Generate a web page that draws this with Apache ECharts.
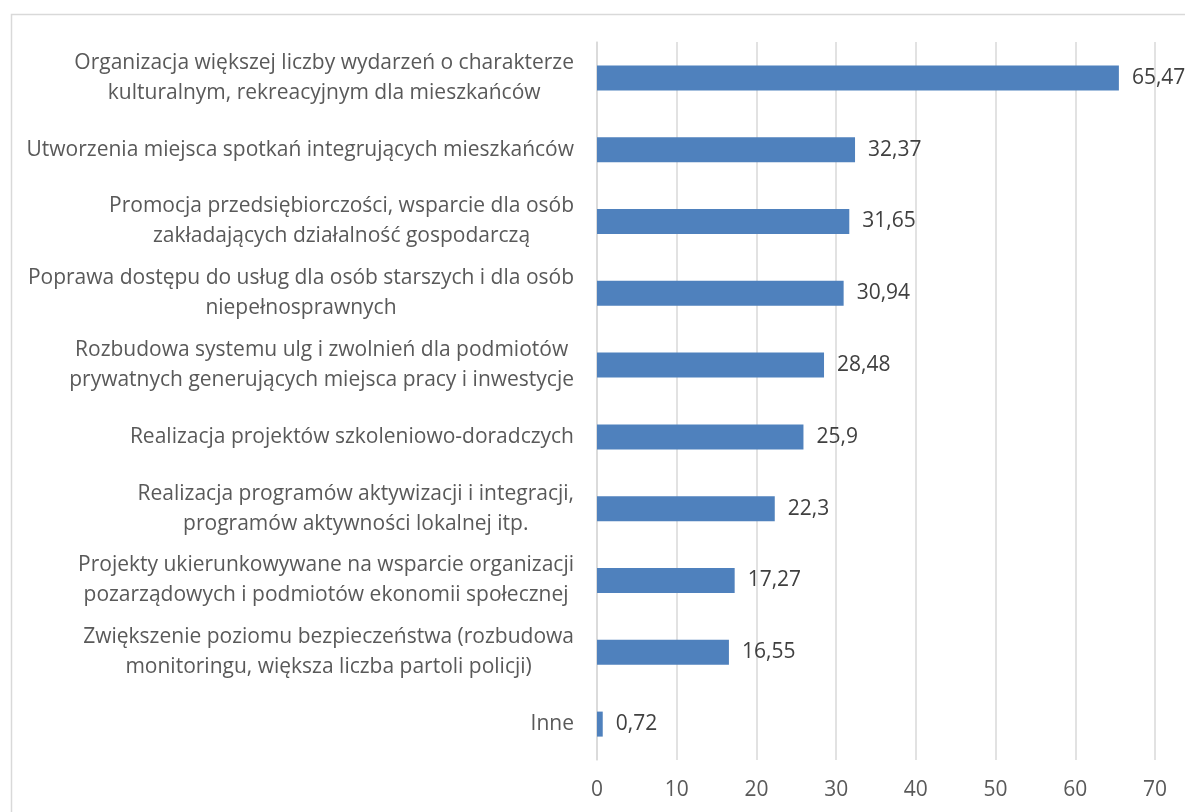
<!DOCTYPE html>
<html>
<head>
<meta charset="utf-8">
<script src="https://cdn.jsdelivr.net/npm/echarts@6/dist/echarts.min.js"></script>
<style>
html,body{margin:0;padding:0;background:#fff;}
#chart{width:1185px;height:812px;}
</style>
</head>
<body>
<div id="chart"></div>
<script>
const categories = [
  "Organizacja większej liczby wydarzeń o charakterze\nkulturalnym, rekreacyjnym dla mieszkańców",
  "Utworzenia miejsca spotkań integrujących mieszkańców",
  "Promocja przedsiębiorczości, wsparcie dla osób\nzakładających działalność gospodarczą",
  "Poprawa dostępu do usług dla osób starszych i dla osób\nniepełnosprawnych",
  "Rozbudowa systemu ulg i zwolnień dla podmiotów\nprywatnych generujących miejsca pracy i inwestycje",
  "Realizacja projektów szkoleniowo-doradczych",
  "Realizacja programów aktywizacji i integracji,\nprogramów aktywności lokalnej itp.",
  "Projekty ukierunkowywane na wsparcie organizacji\npozarządowych i podmiotów ekonomii społecznej",
  "Zwiększenie poziomu bezpieczeństwa (rozbudowa\nmonitoringu, większa liczba partoli policji)",
  "Inne"
];
const values = [65.47, 32.37, 31.65, 30.94, 28.48, 25.9, 22.3, 17.27, 16.55, 0.72];
const xTicks = [0, 10, 20, 30, 40, 50, 60, 70];

const FONT = "Open Sans";
const LABEL_SIZE = 21;
const measureCtx = document.createElement("canvas").getContext("2d");
measureCtx.font = LABEL_SIZE + "px '" + FONT + "'";

const rich = {};
categories.forEach((c, i) => {
  const lines = c.split("\n");
  const w = Math.max(...lines.map(l => measureCtx.measureText(l).width)) + 2;
  rich["c" + i] = {
    width: w, align: "center", fontFamily: FONT, fontSize: LABEL_SIZE,
    color: "#595959", lineHeight: 30
  };
});

const chart = echarts.init(document.getElementById("chart"), null, {renderer: "canvas"});
chart.setOption({
  animation: false,
  backgroundColor: "#ffffff",
  graphic: [{
    type: "rect", left: 9, top: 12, silent: true,
    shape: {x: 0, y: 0, width: 1300, height: 900},
    style: {fill: "none", stroke: "#d9d9d9", lineWidth: 1.5}
  }],
  grid: {left: 597, right: 30, top: 42, bottom: 52, containLabel: false},
  xAxis: {
    type: "value", min: xTicks[0], max: xTicks[xTicks.length - 1], interval: 10,
    axisLine: {show: false}, axisTick: {show: false},
    splitLine: {show: true, lineStyle: {color: "#d9d9d9", width: 1.5}},
    axisLabel: {
      margin: 20, color: "#595959", fontFamily: FONT, fontSize: LABEL_SIZE,
      formatter: v => xTicks.includes(v) ? String(v) : ""
    }
  },
  yAxis: {
    type: "category", data: categories, inverse: true,
    axisLine: {show: true, lineStyle: {color: "#d9d9d9", width: 1.5}},
    axisTick: {show: false},
    axisLabel: {
      margin: 22, interval: 0,
      formatter: (val, idx) => val.split("\n").map(l => "{c" + idx + "|" + l + "}").join("\n"),
      rich: rich
    }
  },
  series: [{
    type: "bar", data: values, barWidth: 25,
    itemStyle: {color: "#4f81bd"},
    label: {
      show: true, position: "right", distance: 13,
      color: "#404040", fontFamily: FONT, fontSize: LABEL_SIZE,
      formatter: p => String(p.value).replace(".", ",")
    }
  }]
});
</script>
</body>
</html>
